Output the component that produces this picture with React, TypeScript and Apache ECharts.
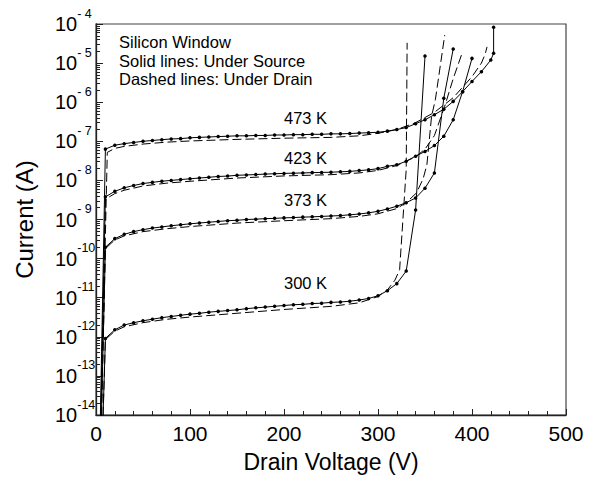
import React, { useEffect, useRef } from "react";
import * as echarts from "echarts";

const FONT = '"Liberation Sans", Arial, Helvetica, sans-serif';

// Drain voltage (V) vs current (A); solid = under source, dashed = under drain
const source300K: [number, number][] = [
  [0, 1e-20], [10, 9.1e-13], [20, 1.51e-12], [30, 2.0e-12], [40, 2.29e-12], [50, 2.57e-12], [60, 2.82e-12],
  [70, 3.09e-12], [80, 3.31e-12], [90, 3.55e-12], [100, 3.8e-12], [110, 3.98e-12], [120, 4.27e-12],
  [130, 4.47e-12], [140, 4.68e-12], [150, 4.9e-12], [160, 5.25e-12], [170, 5.5e-12], [180, 5.75e-12],
  [190, 6.03e-12], [200, 6.31e-12], [210, 6.61e-12], [220, 6.76e-12], [230, 7.08e-12], [240, 7.24e-12],
  [250, 7.59e-12], [260, 7.76e-12], [270, 8.13e-12], [280, 8.71e-12], [290, 9.55e-12], [300, 1.12e-11],
  [310, 1.51e-11], [320, 2.29e-11], [330, 4.79e-11], [340, 1.74e-9], [350, 1.51e-5],
];
const source373K: [number, number][] = [
  [0, 1e-20], [10, 1.95e-10], [20, 3.24e-10], [30, 4.17e-10], [40, 4.9e-10], [50, 5.5e-10], [60, 6.03e-10],
  [70, 6.46e-10], [80, 6.92e-10], [90, 7.33e-10], [100, 7.76e-10], [110, 8.13e-10], [120, 8.51e-10],
  [130, 8.91e-10], [140, 9.33e-10], [150, 9.55e-10], [160, 1.0e-9], [170, 1.02e-9], [180, 1.05e-9],
  [190, 1.07e-9], [200, 1.1e-9], [210, 1.12e-9], [220, 1.15e-9], [230, 1.17e-9], [240, 1.2e-9],
  [250, 1.23e-9], [260, 1.26e-9], [270, 1.32e-9], [280, 1.38e-9], [290, 1.48e-9], [300, 1.62e-9],
  [310, 1.86e-9], [320, 2.19e-9], [330, 2.69e-9], [340, 3.55e-9], [350, 6.31e-9], [360, 1.55e-8],
  [370, 1.26e-6], [380, 2.29e-5],
];
const source423K: [number, number][] = [
  [0, 1e-20], [10, 3.8e-9], [20, 5.25e-9], [30, 6.46e-9], [40, 7.41e-9], [50, 8.32e-9], [60, 8.91e-9],
  [70, 9.55e-9], [80, 1.0e-8], [90, 1.05e-8], [100, 1.1e-8], [110, 1.15e-8], [120, 1.2e-8],
  [130, 1.26e-8], [140, 1.29e-8], [150, 1.35e-8], [160, 1.38e-8], [170, 1.41e-8], [180, 1.45e-8],
  [190, 1.48e-8], [200, 1.51e-8], [210, 1.53e-8], [220, 1.55e-8], [230, 1.58e-8], [240, 1.6e-8],
  [250, 1.62e-8], [260, 1.66e-8], [270, 1.7e-8], [280, 1.78e-8], [290, 1.86e-8], [300, 2.0e-8],
  [310, 2.29e-8], [320, 2.51e-8], [330, 3.09e-8], [340, 4.17e-8], [350, 5.5e-8], [360, 7.76e-8],
  [370, 1.35e-7], [380, 3.55e-7], [390, 1.86e-6], [400, 1.32e-5],
];
const source473K: [number, number][] = [
  [0, 1e-20], [10, 6.31e-8], [20, 7.94e-8], [30, 8.71e-8], [40, 9.33e-8], [50, 1.0e-7], [60, 1.05e-7],
  [70, 1.1e-7], [80, 1.15e-7], [90, 1.17e-7], [100, 1.23e-7], [110, 1.26e-7], [120, 1.29e-7],
  [130, 1.32e-7], [140, 1.35e-7], [150, 1.38e-7], [160, 1.38e-7], [170, 1.41e-7], [180, 1.41e-7],
  [190, 1.45e-7], [200, 1.45e-7], [210, 1.48e-7], [220, 1.48e-7], [230, 1.51e-7], [240, 1.51e-7],
  [250, 1.55e-7], [260, 1.55e-7], [270, 1.58e-7], [280, 1.62e-7], [290, 1.66e-7], [300, 1.7e-7],
  [310, 1.82e-7], [320, 2.0e-7], [330, 2.24e-7], [340, 2.82e-7], [350, 3.55e-7], [360, 4.79e-7],
  [370, 6.61e-7], [380, 1.05e-6], [390, 1.86e-6], [400, 3.39e-6], [410, 6.03e-6], [420, 1.2e-5],
  [423, 1.78e-5], [423, 8.3e-5],
];

const drain300K: [number, number][] = [
  [0, 1e-20], [10, 8.5e-13], [20, 1.4e-12], [30, 1.8e-12], [50, 2.3e-12], [75, 2.8e-12], [100, 3.2e-12],
  [150, 4.0e-12], [200, 5.0e-12], [250, 6.0e-12], [280, 7.4e-12], [300, 1.07e-11], [310, 1.58e-11],
  [318, 2.8e-11], [323, 5.2e-11], [330, 1.9e-8], [331, 3.3e-5],
];
const drain373K: [number, number][] = [
  [0, 1e-20], [10, 1.8e-10], [20, 3.0e-10], [30, 3.8e-10], [50, 4.9e-10], [75, 5.8e-10], [100, 6.6e-10],
  [150, 8.1e-10], [200, 9.3e-10], [250, 1.05e-9], [280, 1.2e-9], [300, 1.4e-9], [320, 1.9e-9],
  [330, 2.7e-9], [341, 4.8e-9], [348, 1.1e-8], [352, 2.5e-8], [357, 4.4e-7], [361, 1.15e-6], [371, 5.2e-5],
];
const drain423K: [number, number][] = [
  [0, 1e-20], [10, 3.3e-9], [20, 4.6e-9], [30, 5.6e-9], [50, 7.2e-9], [75, 8.5e-9], [100, 9.5e-9],
  [150, 1.15e-8], [200, 1.3e-8], [250, 1.4e-8], [280, 1.55e-8], [300, 1.8e-8], [320, 2.4e-8],
  [340, 4.0e-8], [350, 6.3e-8], [360, 1.4e-7], [371, 7.9e-7], [380, 4.0e-6], [390, 1.95e-5],
];
const drain473K: [number, number][] = [
  [0, 1e-20], [12, 5.2e-8], [20, 6.6e-8], [30, 7.4e-8], [50, 8.5e-8], [75, 9.5e-8], [100, 1.02e-7],
  [150, 1.12e-7], [200, 1.2e-7], [250, 1.26e-7], [280, 1.38e-7], [300, 1.6e-7], [320, 2.0e-7],
  [340, 3.0e-7], [360, 5.5e-7], [380, 1.3e-6], [400, 4.5e-6], [410, 1.0e-5], [414, 1.7e-5], [416, 2.6e-5],
];

const temperatureLabels = ["473 K", "423 K", "373 K", "300 K"];
const noteLines = ["Silicon Window", "Solid lines: Under Source", "Dashed lines: Under Drain"];
const decadeExponents = [-14, -13, -12, -11, -10, -9, -8, -7, -6, -5, -4];
const xTitle = "Drain Voltage (V)";
const yTitle = "Current (A)";

export default function App() {
  const ref = useRef<HTMLDivElement>(null);
  useEffect(() => {
    if (!ref.current) return;
    const chart = echarts.init(ref.current, undefined, { renderer: "svg" });

    const decades = decadeExponents.map((e) => Math.pow(10, e));
    const minors: number[] = [];
    for (let i = 0; i < decadeExponents.length - 1; i++) {
      for (let m = 2; m <= 9; m++) minors.push(m * Math.pow(10, decadeExponents[i]));
    }

    const solid = (name: string, data: [number, number][]) => ({
      name,
      type: "line",
      data: data.map((p) => (p[1] < 1e-14 ? { value: p, symbol: "none" } : { value: p })),
      symbol: "circle",
      symbolSize: 3.5,
      showSymbol: true,
      itemStyle: { color: "#000" },
      lineStyle: { color: "#000", width: 1 },
      clip: true,
      z: 3,
    });
    const dashed = (name: string, data: [number, number][]) => ({
      name,
      type: "line",
      data,
      showSymbol: false,
      symbol: "none",
      lineStyle: { color: "#000", width: 1, type: [9, 4] },
      clip: true,
      z: 2,
    });

    const labelYs = [118, 158, 200, 283];

    chart.setOption({
      animation: false,
      backgroundColor: "#fff",
      grid: {
        left: 96,
        right: 32,
        top: 24,
        bottom: 62,
        show: true,
        borderColor: "#444",
        borderWidth: 1.2,
        backgroundColor: "transparent",
      },
      xAxis: {
        type: "value",
        min: 0,
        max: 500,
        interval: 100,
        name: xTitle,
        nameLocation: "middle",
        nameGap: 35,
        nameTextStyle: { fontSize: 23, fontFamily: FONT, color: "#000" },
        axisLine: { show: true, onZero: false, lineStyle: { color: "#222", width: 1.3 } },
        axisTick: { show: true, inside: true, length: 6, lineStyle: { color: "#222", width: 1 } },
        minorTick: { show: true, splitNumber: 5, length: 4, lineStyle: { color: "#222", width: 1 } },
        axisLabel: { fontSize: 21, fontFamily: FONT, color: "#000", margin: 8 },
        splitLine: { show: false },
        minorSplitLine: { show: false },
      },
      yAxis: [
        {
          type: "log",
          logBase: 10,
          min: 1e-14,
          max: 1e-4,
          name: yTitle,
          nameLocation: "middle",
          nameGap: 60,
          nameTextStyle: { fontSize: 24, fontFamily: FONT, color: "#000" },
          axisLine: { show: true, lineStyle: { color: "#222", width: 1.3 } },
          axisTick: {
            show: true,
            inside: true,
            length: 7,
            customValues: decades,
            lineStyle: { color: "#222", width: 1 },
          },
          axisLabel: {
            customValues: decades,
            align: "left",
            margin: 41,
            formatter: (v: number) => {
              const e = Math.round(Math.log10(v));
              const s = e > -10 ? "- " + -e : String(e);
              return "{b|10}{s|" + s + "}";
            },
            rich: {
              b: { fontSize: 20, lineHeight: 34, fontFamily: FONT, color: "#000" },
              s: { fontSize: 12.5, lineHeight: 12, verticalAlign: "top", fontFamily: FONT, color: "#000" },
            },
          },
          splitLine: { show: false },
        },
        {
          type: "log",
          logBase: 10,
          min: 1e-14,
          max: 1e-4,
          position: "left",
          axisLine: { show: false },
          axisTick: {
            show: true,
            inside: true,
            length: 4,
            customValues: minors,
            lineStyle: { color: "#222", width: 1 },
          },
          axisLabel: { show: false },
          splitLine: { show: false },
        },
      ],
      series: [
        solid("Under Source 300 K", source300K),
        solid("Under Source 373 K", source373K),
        solid("Under Source 423 K", source423K),
        solid("Under Source 473 K", source473K),
        dashed("Under Drain 300 K", drain300K),
        dashed("Under Drain 373 K", drain373K),
        dashed("Under Drain 423 K", drain423K),
        dashed("Under Drain 473 K", drain473K),
      ],
      graphic: [
        {
          type: "text",
          x: 119,
          y: 32.5,
          z: 10,
          style: {
            text: noteLines.join("\n"),
            fontSize: 16.5,
            lineHeight: 18.7,
            fontFamily: FONT,
            fill: "#000",
            verticalAlign: "top",
            align: "left",
          },
        },
        ...temperatureLabels.map((t, i) => ({
          type: "text",
          x: 284,
          y: labelYs[i],
          z: 10,
          style: {
            text: t,
            fontSize: 16.5,
            fontFamily: FONT,
            fill: "#000",
            verticalAlign: "middle",
            align: "left",
          },
        })),
      ],
    });
    return () => chart.dispose();
  }, []);
  return (
    <div
      ref={ref}
      style={{ position: "fixed", left: 0, top: 0, width: 598, height: 478, background: "#fff" }}
    />
  );
}
